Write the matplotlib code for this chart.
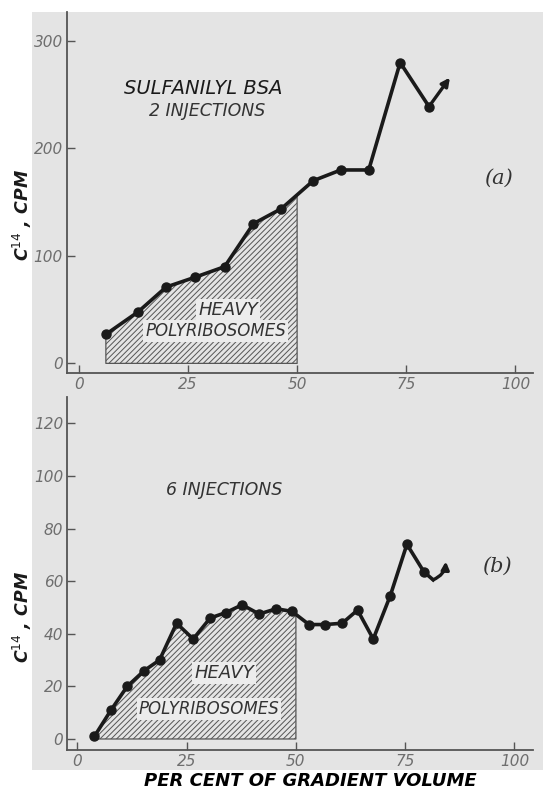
import matplotlib.pyplot as plt
from matplotlib.patches import Rectangle
import numpy as np

# panel (a): sulfanilyl BSA, 2 injections
x_a = [6.2, 13.6, 20.0, 26.5, 33.4, 40.0, 46.4, 53.7, 60.0, 66.4, 73.6, 80.2]
y_a = [27, 48, 71, 80, 90, 130, 144, 170, 180, 180, 280, 239]
arrow_a = (85, 266)

# panel (b): 6 injections
x_b = [3.9, 7.7, 11.4, 15.3, 18.8, 22.7, 26.5, 30.4, 33.9, 37.7, 41.6, 45.5,
       49.1, 53.0, 56.7, 60.6, 64.1, 67.7, 71.6, 75.4, 79.3, 81.4]
y_b = [1, 11, 20, 26, 30, 44, 38, 46, 48, 51, 47.5, 49.5,
       48.5, 43.5, 43.5, 44, 49, 38, 54.5, 74, 63.5, 60.5]
arrow_b = (84.3, 67.5)
n_marked_b = 21  # last point is just the bend before the arrow

heavy_end = 50
xticks = [0, 25, 50, 75, 100]
yticks_a = [0, 100, 200, 300]
yticks_b = [0, 20, 40, 60, 80, 100, 120]

paper = '#e4e4e4'
ink = '#1a1a1a'
grey = '#6e6e6e'
lettering = dict(family='DejaVu Sans', style='oblique')

fig = plt.figure(figsize=(5.43, 7.91), dpi=100)
fig.patch.set_facecolor('white')
fig.patches.append(Rectangle((0.059, 0.027), 0.95, 0.958, transform=fig.transFigure,
                             facecolor=paper, edgecolor='none', zorder=-10))

ax1 = fig.add_axes([0.1234, 0.5284, 0.858, 0.4564])
ax2 = fig.add_axes([0.1240, 0.0518, 0.858, 0.4463])


def style_axes(ax, yticks, xlim, ylim):
    ax.set_facecolor('none')
    for s in ['top', 'right']:
        ax.spines[s].set_visible(False)
    for s in ['left', 'bottom']:
        ax.spines[s].set_color('#555555')
        ax.spines[s].set_linewidth(1.3)
    ax.set_xlim(*xlim)
    ax.set_ylim(*ylim)
    ax.set_xticks(xticks)
    ax.set_yticks(yticks)
    ax.tick_params(direction='in', length=6, width=1, color='#555555',
                   labelcolor=grey, labelsize=11, pad=3)
    for lab in ax.get_xticklabels() + ax.get_yticklabels():
        lab.set_fontstyle('oblique')


def heavy_fill(ax, xs, ys):
    xs = np.array(xs)
    ys = np.array(ys)
    y_end = np.interp(heavy_end, xs, ys)
    keep = xs < heavy_end
    fx = np.concatenate([xs[keep], [heavy_end]])
    fy = np.concatenate([ys[keep], [y_end]])
    plt.rcParams['hatch.color'] = '#666666'
    plt.rcParams['hatch.linewidth'] = 0.7
    ax.fill_between(fx, 0, fy, facecolor='none', edgecolor='#555555',
                    hatch='//////', linewidth=0.9, zorder=1)


box = dict(boxstyle='square,pad=0.12', facecolor='#ececec', edgecolor='none')

# ---- panel (a)
style_axes(ax1, yticks_a, (-2.7, 104), (-9, 327))
heavy_fill(ax1, x_a, y_a)
ax1.plot(x_a, y_a, color=ink, lw=2.6, marker='o', ms=6.5, zorder=3)
ax1.annotate('', xy=arrow_a, xytext=(x_a[-1], y_a[-1]),
             arrowprops=dict(arrowstyle='-|>', color=ink, lw=2.4,
                             mutation_scale=12, shrinkA=0, shrinkB=0), zorder=3)
ax1.text(28.5, 256, 'SULFANILYL BSA', fontsize=14, color=ink, ha='center',
         va='center', **lettering)
ax1.text(29.5, 235, '2 INJECTIONS', fontsize=12.5, color='#333333', ha='center',
         va='center', **lettering)
ax1.text(96, 172, '(a)', fontsize=15, color='#333333', ha='center', va='center',
         family='DejaVu Serif', style='italic')
ax1.text(34.2, 49.5, 'HEAVY', fontsize=13, color='#333333', ha='center',
         va='center', bbox=box, zorder=4, **lettering)
ax1.text(31.3, 30, 'POLYRIBOSOMES', fontsize=12, color='#333333', ha='center',
         va='center', bbox=box, zorder=4, **lettering)

# ---- panel (b)
style_axes(ax2, yticks_b, (-2.3, 104.3), (-4.2, 130))
heavy_fill(ax2, x_b, y_b)
ax2.plot(x_b, y_b, color=ink, lw=2.6, zorder=3)
ax2.plot(x_b[:n_marked_b], y_b[:n_marked_b], 'o', color=ink, ms=6.5, zorder=3)
ax2.annotate('', xy=arrow_b, xytext=(x_b[-1], y_b[-1]),
             arrowprops=dict(arrowstyle='-|>', color=ink, lw=2.4,
                             mutation_scale=11, shrinkA=0, shrinkB=0,
                             connectionstyle='arc3,rad=0.3'), zorder=3)
ax2.text(33.5, 94.5, '6 INJECTIONS', fontsize=12.5, color='#333333', ha='center',
         va='center', **lettering)
ax2.text(96, 65.5, '(b)', fontsize=15, color='#333333', ha='center', va='center',
         family='DejaVu Serif', style='italic')
ax2.text(33.6, 25.2, 'HEAVY', fontsize=13, color='#333333', ha='center',
         va='center', bbox=box, zorder=4, **lettering)
ax2.text(30.1, 11.5, 'POLYRIBOSOMES', fontsize=12, color='#333333', ha='center',
         va='center', bbox=box, zorder=4, **lettering)

# axis titles placed in figure coordinates
fig.text(0.042, 0.728, 'C$^{14}$ , CPM', fontsize=12.5, color=ink, rotation=90,
         ha='center', va='center', fontweight='bold', **lettering)
fig.text(0.042, 0.22, 'C$^{14}$ , CPM', fontsize=12.5, color=ink, rotation=90,
         ha='center', va='center', fontweight='bold', **lettering)
fig.text(0.572, 0.0125, 'PER CENT OF GRADIENT VOLUME', fontsize=13, color='black',
         ha='center', va='center', fontweight='bold', **lettering)

fig.savefig('out.png', dpi=100)
